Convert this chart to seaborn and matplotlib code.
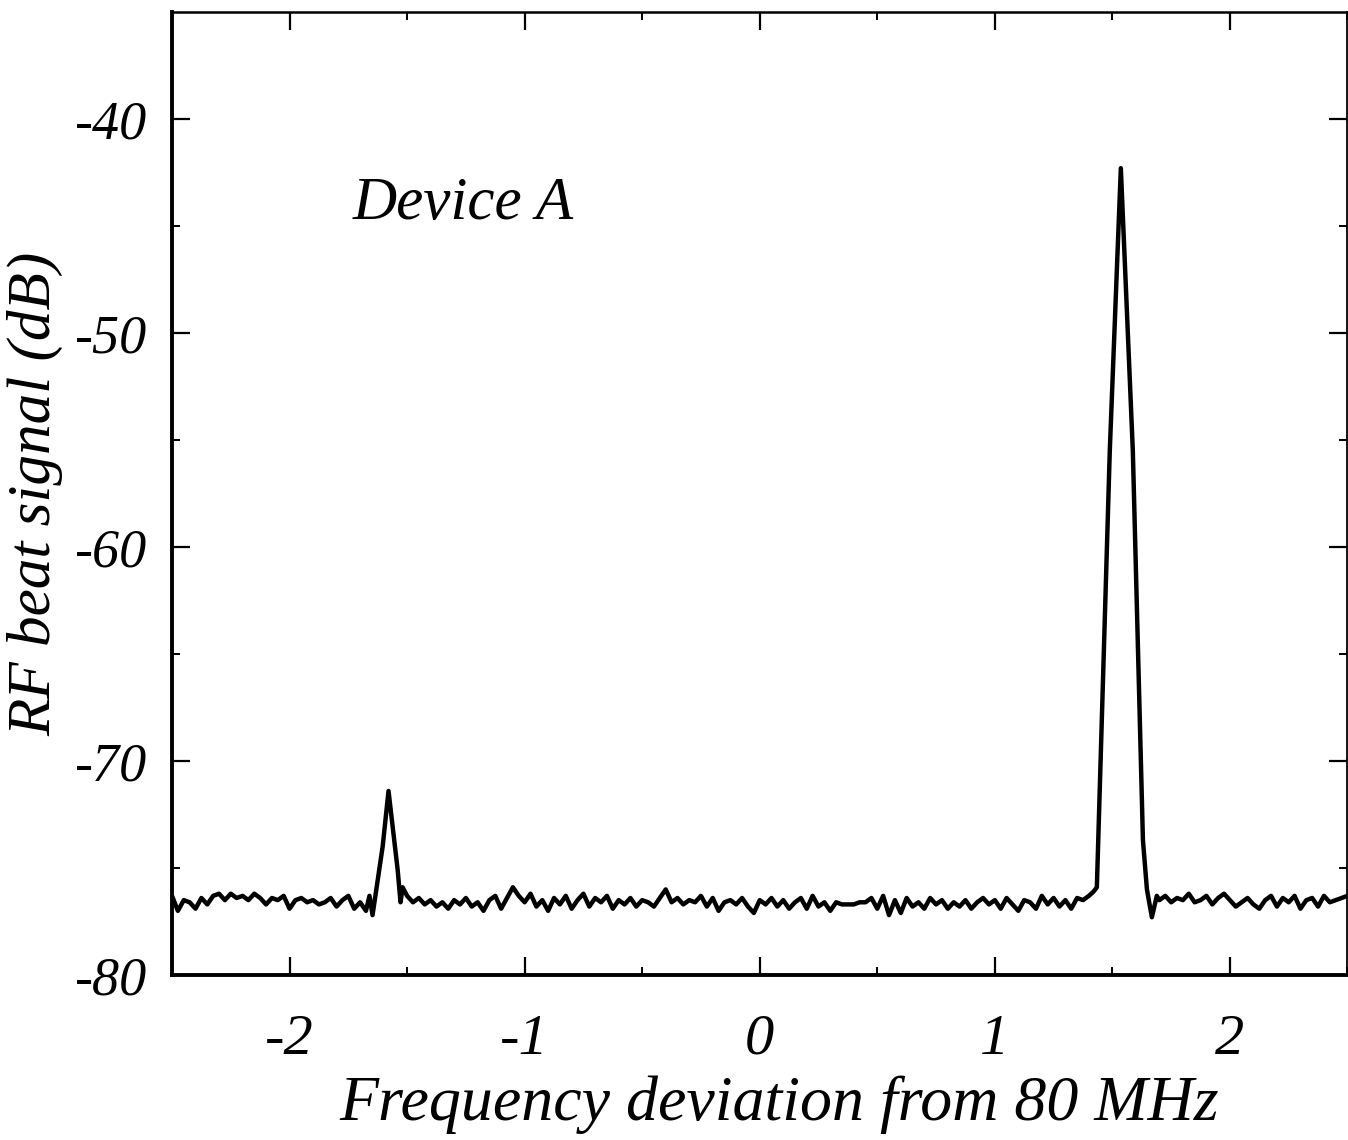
import numpy as np
import pandas as pd
import matplotlib
matplotlib.use("Agg")
import matplotlib.pyplot as plt
import seaborn as sns

# ---- data ----
grid_step = 0.025
left_start = -2.5
left_noise = [-76.3, -77.0, -76.5, -76.6, -76.9, -76.4, -76.7, -76.3, -76.2, -76.5,
              -76.2, -76.4, -76.3, -76.5, -76.2, -76.4, -76.7, -76.4, -76.5, -76.3,
              -76.9, -76.5, -76.4, -76.6, -76.5, -76.7, -76.6, -76.4, -76.8, -76.5,
              -76.3, -76.9, -76.6, -77.0]

small_peak_x = [-1.660, -1.647, -1.604, -1.579, -1.540, -1.528, -1.519]
small_peak_y = [-76.3, -77.2, -74.0, -71.4, -75.1, -76.6, -75.9]

mid_start = -1.5
mid_noise = [-76.3, -76.6, -76.4, -76.7, -76.5, -76.8, -76.6, -76.9, -76.5, -76.7,
             -76.4, -76.8, -76.6, -77.0, -76.5, -76.3, -76.9, -76.4, -75.9, -76.3,
             -76.6, -76.2, -76.8, -76.5, -77.0, -76.4, -76.7, -76.3, -76.9, -76.5,
             -76.2, -76.8, -76.4, -76.6, -76.3, -76.9, -76.5, -76.7, -76.4, -76.8,
             -76.5, -76.6, -76.8, -76.4, -76.0, -76.6, -76.4, -76.7, -76.5, -76.6,
             -76.3, -76.8, -76.4, -77.0, -76.6, -76.5, -76.7, -76.4, -76.8, -77.1,
             -76.5, -76.7, -76.4, -76.8, -76.5, -76.9, -76.6, -76.4, -76.9, -76.3,
             -76.8, -76.6, -77.0, -76.6, -76.7, -76.7, -76.7, -76.6, -76.6, -76.4,
             -76.9, -76.3, -77.2, -76.5, -77.1, -76.4, -76.8, -76.6, -76.9, -76.4,
             -76.7, -76.5, -76.9, -76.6, -76.8, -76.5, -76.9, -76.6, -76.4, -76.7,
             -76.5, -76.9, -76.4, -76.7, -77.0, -76.5, -76.6, -76.9, -76.3, -76.7,
             -76.4, -76.8, -76.5, -76.9, -76.4, -76.5, -76.3]

big_peak_x = [1.420, 1.434, 1.489, 1.536, 1.587, 1.630, 1.647, 1.668, 1.689]
big_peak_y = [-76.1, -75.9, -55.5, -42.3, -55.5, -73.7, -76.0, -77.3, -76.3]

right_start = 1.7
right_noise = [-76.5, -76.3, -76.6, -76.4, -76.5, -76.2, -76.6, -76.5, -76.3, -76.7,
               -76.4, -76.2, -76.5, -76.8, -76.6, -76.4, -76.7, -76.9, -76.5, -76.3,
               -76.8, -76.4, -76.6, -76.3, -76.9, -76.5, -76.4, -76.8, -76.3, -76.6,
               -76.5, -76.4, -76.3]

x_ticks = [-2, -1, 0, 1, 2]
y_ticks = [-80, -70, -60, -50, -40]
x_label = "Frequency deviation from 80 MHz"
y_label = "RF beat signal (dB)"
annotation = "Device A"

# ---- assemble ----
def seg(start, vals):
    return [round(start + i * grid_step, 4) for i in range(len(vals))]

freq = seg(left_start, left_noise) + small_peak_x + seg(mid_start, mid_noise) + big_peak_x + seg(right_start, right_noise)
sig = left_noise + small_peak_y + mid_noise + big_peak_y + right_noise
df = pd.DataFrame({"freq": freq, "signal": sig})

sns.set_style("ticks")
plt.rcParams['font.family'] = ['Liberation Serif', 'DejaVu Serif']
plt.rcParams['text.color'] = 'black'
plt.rcParams['axes.labelcolor'] = 'black'
plt.rcParams['xtick.color'] = 'black'
plt.rcParams['ytick.color'] = 'black'

fig = plt.figure(figsize=(13.48, 11.4), dpi=100)
ax = fig.add_axes([0.1276, 0.1447, 0.8720, 0.8448])

sns.lineplot(data=df, x="freq", y="signal", ax=ax, color="black", linewidth=3.2,
             estimator=None, sort=False)

ax.set_xlim(-2.5, 2.5)
ax.set_ylim(-80, -35)
ax.set_xticks(x_ticks)
ax.set_yticks(y_ticks)
ax.set_xticks([-2.5, -1.5, -0.5, 0.5, 1.5, 2.5], minor=True)
ax.set_yticks([-75, -65, -55, -45], minor=True)
ax.set_xticklabels([str(t) for t in x_ticks], fontsize=42, style="italic")
ax.set_yticklabels([str(t) for t in y_ticks], fontsize=39, style="italic")

ax.tick_params(axis="both", which="major", direction="in", length=13, width=1.6,
               top=True, right=True)
ax.tick_params(axis="both", which="minor", direction="in", length=6, width=1.4,
               top=True, right=True)
ax.tick_params(axis="x", which="major", pad=28)
ax.tick_params(axis="y", which="major", pad=18)

ax.spines["left"].set_linewidth(2.8)
ax.spines["bottom"].set_linewidth(2.8)
ax.spines["top"].set_linewidth(1.8)
ax.spines["right"].set_linewidth(1.3)
for s in ax.spines.values():
    s.set_color("black")

ax.set_xlabel(x_label, fontsize=46, style="italic")
ax.xaxis.set_label_coords(0.5166, -0.104)
ax.set_ylabel(y_label, fontsize=44, style="italic", labelpad=8)

ax.text(-1.73, -44.0, annotation, fontsize=44, style="italic", ha="left", va="center")

fig.savefig("out.png", dpi=100, facecolor="white")
